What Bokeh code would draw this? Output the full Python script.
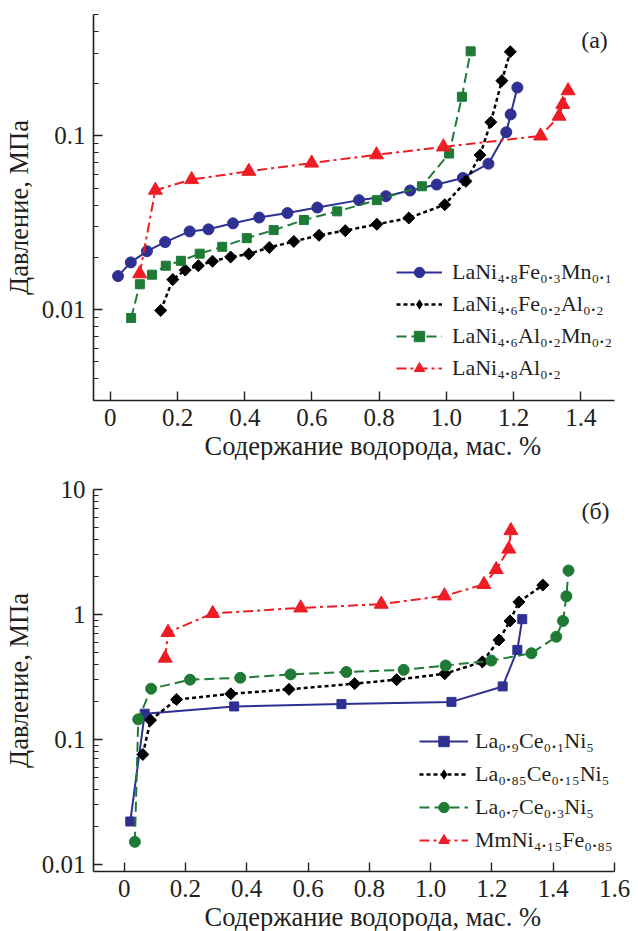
from bokeh.plotting import figure
from bokeh.layouts import column
from bokeh.models import FixedTicker, Label, Legend, LegendItem, Range1d, Title
from bokeh.embed import file_html
from bokeh.resources import INLINE
import numpy as np

# ---------------- data: panel (a) ----------------
a_names = ["LaNi₄.₈Fe₀.₃Mn₀.₁", "LaNi₄.₆Fe₀.₂Al₀.₂", "LaNi₄.₆Al₀.₂Mn₀.₂", "LaNi₄.₈Al₀.₂"]
a1_x = [0.023, 0.061, 0.109, 0.163, 0.236, 0.292, 0.365, 0.443, 0.527, 0.616, 0.740, 0.820, 0.892, 0.971, 1.049, 1.125, 1.178, 1.191, 1.211]
a1_y = [0.0156, 0.0187, 0.0217, 0.0245, 0.0282, 0.0290, 0.0314, 0.0339, 0.0360, 0.0387, 0.0427, 0.045, 0.0485, 0.0525, 0.0573, 0.0692, 0.105, 0.133, 0.19]
a2_x = [0.150, 0.186, 0.223, 0.262, 0.304, 0.358, 0.412, 0.473, 0.546, 0.621, 0.699, 0.793, 0.888, 0.995, 1.058, 1.100, 1.132, 1.165, 1.190]
a2_y = [0.0099, 0.0149, 0.0169, 0.0179, 0.0190, 0.0201, 0.0209, 0.0228, 0.0247, 0.0268, 0.0285, 0.0310, 0.0337, 0.0402, 0.0548, 0.0776, 0.120, 0.208, 0.305]
a3_x = [0.062, 0.088, 0.124, 0.165, 0.210, 0.266, 0.333, 0.406, 0.486, 0.576, 0.675, 0.793, 0.927, 1.008, 1.046, 1.072]
a3_y = [0.00895, 0.0140, 0.0159, 0.0179, 0.0191, 0.0210, 0.0230, 0.0258, 0.0287, 0.0328, 0.0368, 0.0427, 0.0513, 0.0792, 0.168, 0.307]
a4_x = [0.0875, 0.134, 0.242, 0.412, 0.599, 0.792, 0.991, 1.280, 1.335, 1.346, 1.362]
a4_y = [0.0161, 0.0487, 0.0561, 0.0626, 0.0698, 0.0779, 0.0865, 0.100, 0.130, 0.152, 0.182]

# ---------------- data: panel (б) ----------------
b_names = ["La₀.₉Ce₀.₁Ni₅", "La₀.₈₅Ce₀.₁₅Ni₅", "La₀.₇Ce₀.₃Ni₅", "MmNi₄.₁₅Fe₀.₈₅"]
b1_x = [0.020, 0.067, 0.359, 0.709, 1.068, 1.235, 1.283, 1.299]
b1_y = [0.0221, 0.161, 0.184, 0.192, 0.200, 0.266, 0.521, 0.918]
b2_x = [0.061, 0.086, 0.171, 0.348, 0.538, 0.752, 0.889, 1.046, 1.169, 1.223, 1.259, 1.288, 1.366]
b2_y = [0.076, 0.143, 0.209, 0.232, 0.252, 0.280, 0.301, 0.336, 0.418, 0.625, 0.889, 1.26, 1.72]
b3_x = [0.035, 0.046, 0.088, 0.215, 0.379, 0.543, 0.725, 0.912, 1.049, 1.198, 1.329, 1.410, 1.432, 1.443, 1.450]
b3_y = [0.0152, 0.145, 0.255, 0.301, 0.312, 0.332, 0.347, 0.361, 0.391, 0.428, 0.490, 0.664, 0.889, 1.40, 2.25]
b4_x = [0.134, 0.143, 0.289, 0.576, 0.839, 1.045, 1.174, 1.214, 1.255, 1.262]
b4_y = [0.448, 0.72, 1.02, 1.13, 1.21, 1.41, 1.74, 2.29, 3.34, 4.69]

# ---------------- ticks ----------------
a_xticks = [0, 0.2, 0.4, 0.6, 0.8, 1.0, 1.2, 1.4]
a_xlabels = ["0", "0.2", "0.4", "0.6", "0.8", "1.0", "1.2", "1.4"]
b_xticks = [0, 0.2, 0.4, 0.6, 0.8, 1.0, 1.2, 1.4, 1.6]
b_xlabels = ["0", "0.2", "0.4", "0.6", "0.8", "1.0", "1.2", "1.4", "1.6"]
a_yticks = [0.01, 0.1]
a_ylabels = ["0.01", "0.1"]
b_yticks = [0.01, 0.1, 1, 10]
b_ylabels = ["0.01", "0.1", "1", "10"]

y_title = "Давление, МПа"
x_title = "Содержание водорода, мас. %"

FONT = "Liberation Serif"
TXT = "#231f20"
BLUE = "#2e3192"
BLACK = "#000000"
GREEN = "#1f7a36"
RED = "#ee1c25"


def overrides(ticks, labels):
    return {float(t): l for t, l in zip(ticks, labels)}


def minor_list(decades, top):
    out = []
    for d in decades:
        for m in range(2, 10):
            v = m * d
            if v <= top * 1.0001:
                out.append(v)
    return out


def make_fig(height, xr, yr, xt, xl, yt, yl, minors, bt, bb, br):
    p = figure(width=638, height=height, x_range=Range1d(*xr), y_range=Range1d(*yr),
               y_axis_type="log", output_backend="svg", toolbar_location=None,
               min_border_left=86, min_border_right=br, min_border_top=bt, min_border_bottom=bb)
    p.outline_line_color = None
    p.grid.visible = False
    p.background_fill_color = "white"
    p.border_fill_color = "white"
    for ax in (p.xaxis[0], p.yaxis[0]):
        ax.axis_line_width = 1.6
        ax.axis_line_color = TXT
        ax.major_tick_line_color = TXT
        ax.minor_tick_line_color = TXT
        ax.major_tick_line_width = 1.4
        ax.minor_tick_line_width = 1.2
        ax.major_tick_in = 9
        ax.major_tick_out = 0
        ax.minor_tick_in = 5
        ax.minor_tick_out = 0
        ax.major_label_text_font = FONT
        ax.major_label_text_font_size = "25px"
        ax.major_label_text_color = TXT
        ax.axis_label_text_font = FONT
        ax.axis_label_text_font_size = "26.5px"
        ax.axis_label_text_font_style = "normal"
        ax.axis_label_text_color = TXT
    p.xaxis.ticker = FixedTicker(ticks=xt, minor_ticks=[])
    p.xaxis.major_label_overrides = overrides(xt, xl)
    p.xaxis.major_label_standoff = 8
    p.yaxis.ticker = FixedTicker(ticks=yt, minor_ticks=minors)
    p.yaxis.major_label_overrides = overrides(yt, yl)
    p.yaxis.major_label_standoff = 8
    p.yaxis.axis_label = y_title
    p.yaxis.axis_label_standoff = 5
    p.add_layout(Title(text=x_title, align="left", offset=111, standoff=0,
                       text_font=FONT, text_font_size="26.5px", text_font_style="normal",
                       text_color=TXT), "below")
    return p


def add_series(p, x, y, color, dash, width, marker, size, angle=0.0, legend_marker=None):
    ln = p.line(x, y, line_color=color, line_width=width, line_dash=dash)
    proxy = None
    if legend_marker is not None:
        # legend swatches ignore marker rotation: a same-colour diamond hidden under
        # the rotated squares supplies the legend swatch
        proxy = p.scatter(x, y, marker=legend_marker, size=size * 1.35,
                          fill_color=color, line_color=color, line_width=0)
    sc = p.scatter(x, y, marker=marker, size=size, angle=angle,
                   fill_color=color, line_color=color, line_width=1)
    return [ln, proxy if proxy is not None else sc]


# ---------------- panel (a) ----------------
pa = make_fig(460, (-0.05, 1.5), (0.003, 0.5), a_xticks, a_xlabels, a_yticks, a_ylabels,
              minor_list([0.001, 0.01, 0.1], 0.5), 14, 59, 22)
ra = [
    add_series(pa, a1_x, a1_y, BLUE, "solid", 2, "circle", 11),
    add_series(pa, a2_x, a2_y, BLACK, "4 3", 2.5, "square", 8.5, np.pi / 4, "diamond"),
    add_series(pa, a3_x, a3_y, GREEN, "10 5", 2, "square", 9),
    add_series(pa, a4_x, a4_y, RED, "10 4 3 4", 2, "triangle", 14),
]
leg_a = Legend(items=[LegendItem(label=n, renderers=r) for n, r in zip(a_names, ra)],
               location=(303, 19), orientation="vertical")
pa.add_layout(leg_a)
pa.add_layout(Label(x=501, y=361, x_units="screen", y_units="screen", text="(a)",
                    text_font=FONT, text_font_size="24px", text_color=TXT,
                    text_align="center", text_baseline="middle"))

# ---------------- panel (б) ----------------
pb = make_fig(471, (-0.1, 1.6), (0.0088, 10), b_xticks, b_xlabels, b_yticks, b_ylabels,
              minor_list([0.01, 0.1, 1], 10), 29, 57, 24)
rb = [
    add_series(pb, b1_x, b1_y, BLUE, "solid", 2, "square", 9),
    add_series(pb, b2_x, b2_y, BLACK, "4 3", 2.5, "square", 8.5, np.pi / 4, "diamond"),
    add_series(pb, b3_x, b3_y, GREEN, "10 5", 2, "circle", 11),
    add_series(pb, b4_x, b4_y, RED, "10 4 3 4", 2, "triangle", 14),
]
leg_b = Legend(items=[LegendItem(label=n, renderers=r) for n, r in zip(b_names, rb)],
               location=(326, 18), orientation="vertical")
pb.add_layout(leg_b)
pb.add_layout(Label(x=502, y=361, x_units="screen", y_units="screen", text="(б)",
                    text_font=FONT, text_font_size="24px", text_color=TXT,
                    text_align="center", text_baseline="middle"))

for leg, gw, st, sp in ((leg_a, 46, 10, 6), (leg_b, 49, 7, 7)):
    leg.padding = 0
    leg.margin = 0
    leg.border_line_color = None
    leg.background_fill_alpha = 0
    leg.glyph_width = gw
    leg.glyph_height = 26
    leg.label_height = 26
    leg.label_standoff = st
    leg.spacing = sp
    leg.label_text_font = FONT
    leg.label_text_font_size = "22px"
    leg.label_text_color = TXT
    leg.label_text_baseline = "middle"

layout = column(pa, pb, spacing=0)
open("out.html", "w").write(file_html(layout, INLINE))
